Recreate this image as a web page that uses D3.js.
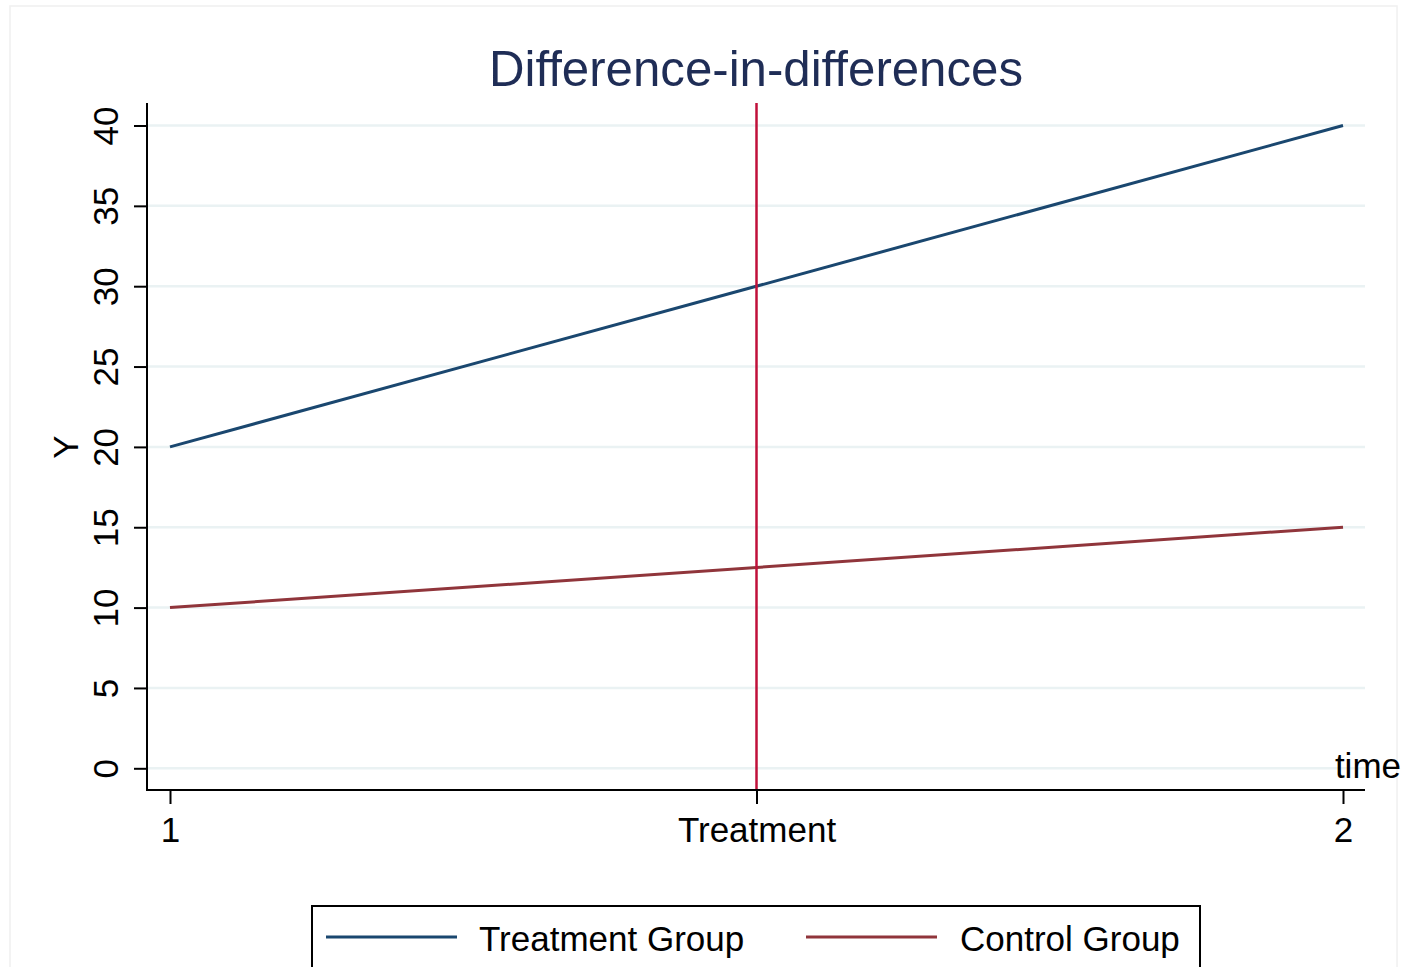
<!DOCTYPE html>
<html>
<head>
<meta charset="utf-8">
<script src="https://cdn.jsdelivr.net/npm/d3@7"></script>
<style>
  html, body { margin: 0; padding: 0; background: #ffffff; }
  svg { display: block; font-family: "Liberation Sans", Arial, sans-serif; }
</style>
</head>
<body>
<svg id="chart" width="1402" height="967"></svg>
<script>
// ---- data ----
const timePoints = [1, 2];
const treatmentValues = [20, 40];
const controlValues = [10, 15];
const treatmentTime = 1.5;
const xTickValues = [1, 1.5, 2];
const xTickLabels = ["1", "Treatment", "2"];
const yTickValues = [0, 5, 10, 15, 20, 25, 30, 35, 40];
const seriesNames = ["Treatment Group", "Control Group"];
const title = "Difference-in-differences";

// ---- layout ----
const svg = d3.select("#chart");
const axisLeft = 147, axisRight = 1365, axisTop = 103, axisBottom = 790;

const x = d3.scaleLinear().domain([1, 2]).range([170, 1343]);
const y = d3.scaleLinear().domain([0, 40]).range([768.3, 125.5]);

const colTreat = "#1a476f";
const colCtrl = "#90353b";
const colVert = "#c0103a";
const tickFont = 35;

// outer faint frame
svg.append("rect").attr("x", 10).attr("y", 6).attr("width", 1387).attr("height", 975)
  .attr("fill", "#ffffff").attr("stroke", "#f0f0f0").attr("stroke-width", 1.5);

// gridlines
svg.append("g").selectAll("line").data(yTickValues).join("line")
  .attr("x1", axisLeft).attr("x2", axisRight)
  .attr("y1", d => y(d)).attr("y2", d => y(d))
  .attr("stroke", "#eaf2f3").attr("stroke-width", 2.5);

// y axis
const yAxis = d3.axisLeft(y).tickValues(yTickValues).tickSize(13).tickPadding(0).tickFormat(d3.format("d"));
const gy = svg.append("g").attr("transform", `translate(${axisLeft},0)`).call(yAxis);
gy.select(".domain").remove();
gy.selectAll(".tick line").attr("stroke", "#000").attr("stroke-width", 2);
gy.selectAll(".tick text")
  .attr("x", null).attr("dy", null)
  .attr("text-anchor", "middle")
  .attr("transform", "translate(-29,0) rotate(-90)")
  .attr("font-size", tickFont).attr("fill", "#000")
  .style("font-family", "'Liberation Sans', Arial, sans-serif");
svg.append("line").attr("x1", axisLeft).attr("x2", axisLeft).attr("y1", axisTop).attr("y2", axisBottom + 1)
  .attr("stroke", "#000").attr("stroke-width", 2);

// x axis
const xAxis = d3.axisBottom(x).tickValues(xTickValues).tickSize(14).tickPadding(0)
  .tickFormat((d, i) => xTickLabels[i]);
const gx = svg.append("g").attr("transform", `translate(0,${axisBottom})`).call(xAxis);
gx.select(".domain").remove();
gx.selectAll(".tick line").attr("stroke", "#000").attr("stroke-width", 2);
gx.selectAll(".tick text")
  .attr("y", 52).attr("dy", null)
  .attr("font-size", tickFont).attr("fill", "#000")
  .style("font-family", "'Liberation Sans', Arial, sans-serif");
svg.append("line").attr("x1", axisLeft - 1).attr("x2", axisRight).attr("y1", axisBottom).attr("y2", axisBottom)
  .attr("stroke", "#000").attr("stroke-width", 2);

// series lines
const line = d3.line().x(d => x(d[0])).y(d => y(d[1]));
svg.append("path").datum(timePoints.map((t, i) => [t, controlValues[i]]))
  .attr("d", line).attr("fill", "none").attr("stroke", colCtrl).attr("stroke-width", 3);
svg.append("path").datum(timePoints.map((t, i) => [t, treatmentValues[i]]))
  .attr("d", line).attr("fill", "none").attr("stroke", colTreat).attr("stroke-width", 3);

// treatment vertical line
svg.append("line").attr("x1", x(treatmentTime)).attr("x2", x(treatmentTime))
  .attr("y1", axisTop).attr("y2", axisBottom - 1)
  .attr("stroke", colVert).attr("stroke-width", 2.5);

// title
svg.append("text").attr("x", (axisLeft + axisRight) / 2).attr("y", 86)
  .attr("text-anchor", "middle").attr("font-size", 49.2).attr("fill", "#1f2d56")
  .text(title);

// axis titles
svg.append("text").attr("transform", "translate(78,447) rotate(-90)")
  .attr("text-anchor", "middle").attr("font-size", tickFont).attr("fill", "#000").text("Y");
svg.append("text").attr("x", 1401).attr("y", 778)
  .attr("text-anchor", "end").attr("font-size", tickFont).attr("fill", "#000").text("time");

// legend
const lg = svg.append("g");
lg.append("rect").attr("x", 312).attr("y", 906).attr("width", 888).attr("height", 80)
  .attr("fill", "#fff").attr("stroke", "#000").attr("stroke-width", 2);
const legItems = [
  { name: seriesNames[0], color: colTreat, x0: 326, x1: 457, tx: 479 },
  { name: seriesNames[1], color: colCtrl, x0: 806, x1: 937, tx: 960 }
];
legItems.forEach(it => {
  lg.append("line").attr("x1", it.x0).attr("x2", it.x1).attr("y1", 937).attr("y2", 937)
    .attr("stroke", it.color).attr("stroke-width", 3);
  lg.append("text").attr("x", it.tx).attr("y", 951).attr("font-size", 35).attr("fill", "#000").text(it.name);
});
</script>
</body>
</html>
